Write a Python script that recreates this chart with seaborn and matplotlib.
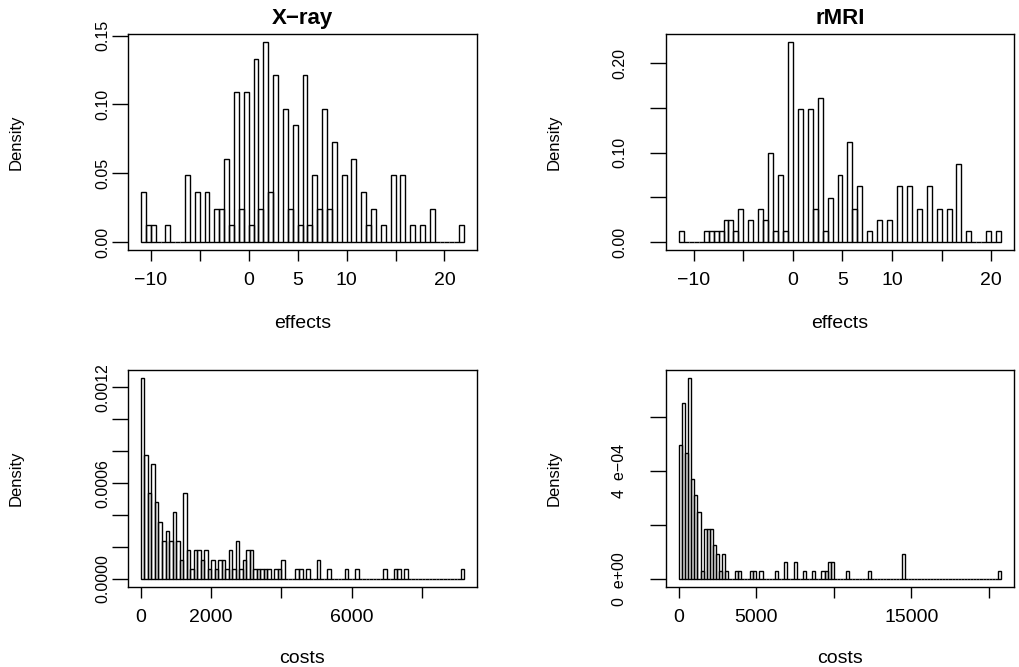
import numpy as np
import pandas as pd
import matplotlib
matplotlib.use("Agg")
import matplotlib.pyplot as plt
import seaborn as sns

# bin counts (first bin start, bin width, counts)
xray_eff_start, xray_eff_width = -11.0, 0.5
xray_eff_counts = [3, 1, 1, 0, 0, 1, 0, 0, 0, 4,
                   0, 3, 0, 3, 0, 2, 2, 5, 1, 9,
                   2, 9, 1, 11, 2, 12, 3, 10, 0, 8,
                   2, 7, 1, 10, 1, 4, 2, 8, 2, 6,
                   0, 4, 0, 5, 0, 3, 1, 2, 0, 1,
                   0, 4, 0, 4, 0, 1, 0, 1, 0, 2,
                   0, 0, 0, 0, 0, 1]

rmri_eff_start, rmri_eff_width = -11.5, 0.5
rmri_eff_counts = [1, 0, 0, 0, 0, 1, 1, 1, 1, 2,
                   2, 1, 3, 0, 2, 0, 3, 2, 8, 1,
                   6, 1, 18, 0, 12, 0, 12, 3, 13, 1,
                   4, 0, 6, 0, 9, 3, 5, 0, 1, 0,
                   2, 0, 2, 0, 5, 0, 5, 0, 3, 0,
                   5, 0, 3, 0, 3, 0, 7, 0, 1, 0,
                   0, 0, 1, 0, 1]

xray_cost_start, xray_cost_width = 0, 100
xray_cost_counts = [21, 13, 9, 12, 8, 6, 4, 5, 4, 7,
                    4, 2, 9, 3, 1, 3, 3, 2, 3, 1,
                    2, 1, 2, 2, 1, 3, 1, 4, 1, 2,
                    3, 3, 1, 1, 1, 1, 1, 0, 1, 1,
                    2, 0, 0, 0, 1, 1, 0, 1, 0, 0,
                    2, 0, 0, 1, 0, 0, 0, 0, 1, 0,
                    0, 1, 0, 0, 0, 0, 0, 0, 0, 1,
                    0, 0, 1, 1, 0, 1, 0, 0, 0, 0,
                    0, 0, 0, 0, 0, 0, 0, 0, 0, 0,
                    0, 1]

rmri_cost_start, rmri_cost_width = 0, 200
rmri_cost_counts = [16, 21, 15, 24, 12, 10, 8, 1, 6, 6,
                    6, 4, 3, 1, 3, 1, 0, 0, 1, 1,
                    0, 0, 0, 1, 1, 0, 1, 0, 0, 0,
                    0, 1, 0, 0, 2, 0, 0, 2, 0, 0,
                    1, 0, 0, 1, 0, 0, 1, 1, 2, 2,
                    0, 0, 0, 0, 1, 0, 0, 0, 0, 0,
                    0, 1, 0, 0, 0, 0, 0, 0, 0, 0,
                    0, 0, 3, 0, 0, 0, 0, 0, 0, 0,
                    0, 0, 0, 0, 0, 0, 0, 0, 0, 0,
                    0, 0, 0, 0, 0, 0, 0, 0, 0, 0,
                    0, 0, 0, 1]

titles = ["X\u2212ray", "rMRI", "", ""]
xlabels = ["effects", "effects", "costs", "costs"]

eff_ticks = [-10, -5, 0, 5, 10, 15, 20]
eff_ticklabels = ["\u221210", "", "0", "5", "10", "", "20"]
xray_cost_ticks = [0, 2000, 4000, 6000, 8000]
xray_cost_ticklabels = ["0", "2000", "", "6000", ""]
rmri_cost_ticks = [0, 5000, 10000, 15000, 20000]
rmri_cost_ticklabels = ["0", "5000", "", "15000", ""]

xray_eff_yticks = [0, 0.05, 0.10, 0.15]
xray_eff_ylabels = ["0.00", "0.05", "0.10", "0.15"]
rmri_eff_yticks = [0, 0.05, 0.10, 0.15, 0.20]
rmri_eff_ylabels = ["0.00", "", "0.10", "", "0.20"]
xray_cost_yticks = [0, 0.0002, 0.0004, 0.0006, 0.0008, 0.0010, 0.0012]
xray_cost_ylabels = ["0.0000", "", "", "0.0006", "", "", "0.0012"]
rmri_cost_yticks = [0, 0.0002, 0.0004, 0.0006]
rmri_cost_ylabels = ["0  e+00", "", "4  e\u221204", ""]

sns.set_style("ticks")
plt.rcParams['font.family'] = ['Liberation Sans', 'DejaVu Sans']
plt.rcParams['text.color'] = 'black'
plt.rcParams['axes.labelcolor'] = 'black'
plt.rcParams['xtick.color'] = 'black'
plt.rcParams['ytick.color'] = 'black'

fig = plt.figure(figsize=(10.19, 6.67), dpi=100)
W, H = 1019, 667
boxes = [(128, 34, 477, 250), (666, 34, 1014, 250),
         (128, 370, 477, 587), (666, 370, 1014, 587)]

panels = [
    (xray_eff_start, xray_eff_width, xray_eff_counts, eff_ticks, eff_ticklabels,
     xray_eff_yticks, xray_eff_ylabels, 1.5),
    (rmri_eff_start, rmri_eff_width, rmri_eff_counts, eff_ticks, eff_ticklabels,
     rmri_eff_yticks, rmri_eff_ylabels, 16.5),
    (xray_cost_start, xray_cost_width, xray_cost_counts, xray_cost_ticks, xray_cost_ticklabels,
     xray_cost_yticks, xray_cost_ylabels, 1.5),
    (rmri_cost_start, rmri_cost_width, rmri_cost_counts, rmri_cost_ticks, rmri_cost_ticklabels,
     rmri_cost_yticks, rmri_cost_ylabels, 16.5),
]

for i, (start, width, counts, xt, xtl, yt, ytl, ypad) in enumerate(panels):
    x0, y0, x1, y1 = boxes[i]
    ax = fig.add_axes([x0 / W, 1 - y1 / H, (x1 - x0) / W, (y1 - y0) / H])

    counts = np.array(counts, dtype=float)
    n_bins = len(counts)
    lo, hi = start, start + width * n_bins
    df = pd.DataFrame({
        "value": start + width * (np.arange(n_bins) + 0.5),
        "count": counts,
    })
    sns.histplot(data=df, x="value", weights="count", binwidth=width,
                 binrange=(lo, hi), stat="density", fill=False,
                 color="black", linewidth=1.0, ax=ax)

    # R-style 4% padding on both axes
    span = hi - lo
    ax.set_xlim(lo - 0.04 * span, hi + 0.04 * span)
    top = counts.max() / (counts.sum() * width)
    ax.set_ylim(-0.04 * top, 1.04 * top)

    ax.set_xticks(xt)
    ax.set_xticklabels(xtl, fontsize=14)
    ax.set_yticks(yt)
    ax.set_yticklabels(ytl, fontsize=11.5, rotation=90, va="center")
    ax.tick_params(axis="x", length=8, width=1, pad=8, color="black")
    ax.tick_params(axis="y", length=11.5, width=1, pad=ypad, color="black")

    for sp in ax.spines.values():
        sp.set_visible(True)
        sp.set_color("black")
        sp.set_linewidth(1.0)

    ax.set_ylabel("Density", fontsize=12)
    ax.yaxis.set_label_coords(-0.3, 0.5)
    ax.set_xlabel(xlabels[i], fontsize=14)
    ax.xaxis.set_label_coords(0.5, -0.3 if i < 2 else -0.29)
    if titles[i]:
        ax.set_title(titles[i], fontsize=16, fontweight="bold", pad=7.5)

fig.savefig("out.png", dpi=100)
